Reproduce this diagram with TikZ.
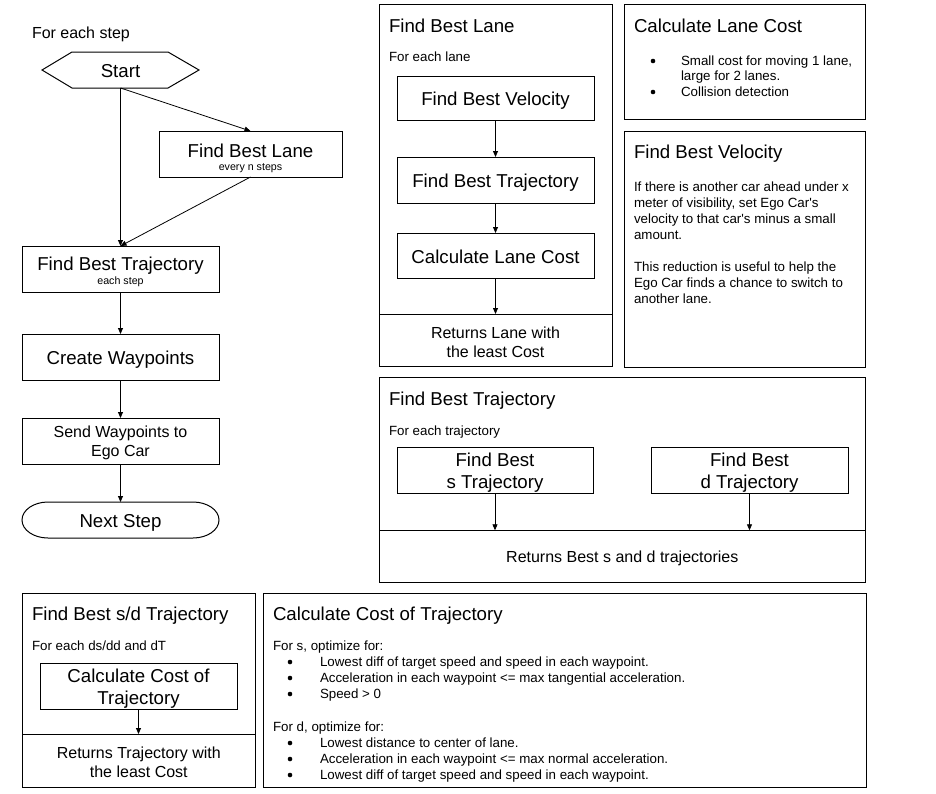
\documentclass[tikz,border=0pt]{standalone}
\usepackage{fontspec}
\setmainfont{Liberation Sans}
\usetikzlibrary{arrows.meta}
\newcommand\sbig{\rule[-3.3pt]{0pt}{22pt}}
\newcommand\smid{\rule[-3.4pt]{0pt}{19pt}}
\newcommand\ssm{\rule[-3pt]{0pt}{16pt}}
\newcommand\stn{\rule[-2.2pt]{0pt}{13pt}}
\tikzset{
  every node/.style={inner sep=0pt, outer sep=0pt},
  fbig/.style={font=\fontsize{18.67pt}{22pt}\selectfont},
  fmid/.style={font=\fontsize{16pt}{19pt}\selectfont},
  fsm/.style={font=\fontsize{13.33pt}{16pt}\selectfont},
  ftn/.style={font=\fontsize{10.67pt}{13pt}\selectfont},
  box/.style={draw=black, line width=1pt, align=center, fbig},
  panel/.style={draw=black, line width=1pt},
  txt/.style={anchor=west},
  arr/.style={draw=black, line width=0.8pt, -{Triangle[length=6pt,width=5pt]}},
  divline/.style={draw=black, line width=1pt},
  outline/.style={draw=black, line width=1pt},
  bulletdot/.style={fill=black},
}
\begin{document}
\begin{tikzpicture}[x=1pt, y=-1pt]
\useasboundingbox[fill=white] (0,0) rectangle (936,793);

% ---------------- left flowchart ----------------
\node[txt, fmid] (forstep) at (32,32) {For each step\smid};
\node[fbig, minimum width=157pt, minimum height=36pt] (start) at (120.5,70) {Start\sbig};
\draw[outline] (start.west) -- ([xshift=30pt]start.north west) -- ([xshift=-31pt]start.north east)
  -- (start.east) -- ([xshift=-31pt]start.south east) -- ([xshift=30pt]start.south west) -- cycle;

\node[box, minimum width=183pt, minimum height=46pt] (fbl) at (250.5,154) {};
\node[fbig] (fbla) at (250.5,150) {Find Best Lane\sbig};
\node[ftn] (fblb) at (250.5,166) {every n steps\stn};

\node[box, minimum width=197pt, minimum height=46pt] (fbt) at (120.5,269) {};
\node[fbig] (fbta) at (120.5,263) {Find Best Trajectory\sbig};
\node[ftn] (fbtb) at (120.5,280) {each step\stn};

\node[box, minimum width=197pt, minimum height=46pt] (cw) at (120.5,357) {Create Waypoints\sbig};
\node[box, fmid, minimum width=197pt, minimum height=46pt] (sw) at (120.5,441) {Send Waypoints to\smid\\Ego Car\smid};
\node[fbig, minimum width=197pt, minimum height=36pt] (next) at (120.5,520) {Next Step\sbig};
\draw[outline] ([xshift=26pt]next.north west) -- ([xshift=-26pt]next.north east)
  arc[start angle=90, end angle=-90, x radius=26pt, y radius=18pt]
  -- ([xshift=26pt]next.south west)
  arc[start angle=270, end angle=90, x radius=26pt, y radius=18pt] -- cycle;

\draw[arr] (start.south) -- (fbt.north);
\draw[arr] (start.south) -- (fbl.north);
\draw[arr] (fbl.south) -- (fbt.north);
\draw[arr] (fbt.south) -- (cw.north);
\draw[arr] (cw.south) -- (sw.north);
\draw[arr] (sw.south) -- (next.north);

% ---------------- Find Best Lane panel ----------------
\node[panel, minimum width=233pt, minimum height=362.2pt] (fblp) at (495.5,185.6) {};
\node[txt, fbig] (fblpt) at (389,25) {Find Best Lane\sbig};
\node[txt, fsm] (fblpf) at (389,56) {For each lane\ssm};
\node[box, minimum width=197pt, minimum height=44pt] (fbv) at (495.5,98) {Find Best Velocity\sbig};
\node[box, minimum width=197pt, minimum height=46pt] (fbtl) at (495.5,180) {Find Best Trajectory\sbig};
\node[box, minimum width=197pt, minimum height=45pt] (clcl) at (495.5,255.5) {Calculate Lane Cost\sbig};
\coordinate (fbldiv) at (495.5,314);
\draw[divline] (fblp.west |- fbldiv) -- (fblp.east |- fbldiv);
\draw[arr] (fbv.south) -- (fbtl.north);
\draw[arr] (fbtl.south) -- (clcl.north);
\draw[arr] (clcl.south) -- (fbldiv);
\node[fmid, align=center] (fblret) at (495.5,341.5) {Returns Lane with\smid\\the least Cost\smid};

% ---------------- Calculate Lane Cost panel ----------------
\node[panel, minimum width=241.5pt, minimum height=114.5pt] (clcp) at (744.75,61.75) {};
\node[txt, fbig] (clcpt) at (634,25) {Calculate Lane Cost\sbig};
\fill[bulletdot] (653,61) circle[radius=2.3pt];
\fill[bulletdot] (653,92) circle[radius=2.3pt];
\node[txt, fsm] (clc1) at (681,60) {Small cost for moving 1 lane,\ssm};
\node[txt, fsm] (clc1b) at (681,75.5) {large for 2 lanes.\ssm};
\node[txt, fsm] (clc2) at (681,91) {Collision detection\ssm};

% ---------------- Find Best Velocity panel ----------------
\node[panel, minimum width=241.5pt, minimum height=236pt] (fbvp) at (744.75,249) {};
\node[txt, fbig] (fbvpt) at (634,151) {Find Best Velocity\sbig};
\node[fsm, anchor=north west, align=left] (fbvtxt) at (634,178) {%
\ssm If there is another car ahead under x\\
\ssm meter of visibility, set Ego Car\textquotesingle s\\
\ssm velocity to that car\textquotesingle s minus a small\\
\ssm amount.\\[16pt]
\ssm This reduction is useful to help the\\
\ssm Ego Car finds a chance to switch to\\
\ssm another lane.};

% ---------------- Find Best Trajectory panel ----------------
\node[panel, minimum width=486.5pt, minimum height=204.5pt] (fbtp) at (622.25,479.75) {};
\node[txt, fbig] (fbtpt) at (389,398) {Find Best Trajectory\sbig};
\node[txt, fsm] (fbtpf) at (389,430) {For each trajectory\ssm};
\node[box, minimum width=196pt, minimum height=46pt] (sbox) at (495,470) {Find Best\sbig\\s Trajectory\sbig};
\node[box, minimum width=197pt, minimum height=46pt] (dbox) at (749.5,470) {Find Best\sbig\\d Trajectory\sbig};
\coordinate (fbtdiv) at (622.25,530.3);
\draw[divline] (fbtp.west |- fbtdiv) -- (fbtp.east |- fbtdiv);
\coordinate (sdiv) at (sbox.south |- fbtdiv);
\coordinate (ddiv) at (dbox.south |- fbtdiv);
\draw[arr] (sbox.south) -- (sdiv);
\draw[arr] (dbox.south) -- (ddiv);
\node[fmid] (fbtret) at (622.25,556) {Returns Best s and d trajectories\smid};

% ---------------- Find Best s/d Trajectory panel ----------------
\node[panel, minimum width=233pt, minimum height=194pt] (sdp) at (138.8,690) {};
\node[txt, fbig] (sdpt) at (32,613) {Find Best s/d Trajectory\sbig};
\node[txt, fsm] (sdpf) at (32,645) {For each ds/dd and dT\ssm};
\node[box, minimum width=197pt, minimum height=46pt] (cct) at (138.5,686) {Calculate Cost of\sbig\\Trajectory\sbig};
\coordinate (sddiv) at (138.5,734);
\draw[divline] (sdp.west |- sddiv) -- (sdp.east |- sddiv);
\draw[arr] (cct.south) -- (sddiv);
\node[fmid, align=center] (sdret) at (138.8,761.5) {Returns Trajectory with\smid\\the least Cost\smid};

% ---------------- Calculate Cost of Trajectory panel ----------------
\node[panel, minimum width=602.5pt, minimum height=194pt] (cctp) at (564.75,690) {};
\node[txt, fbig] (cctpt) at (273,613) {Calculate Cost of Trajectory\sbig};
\node[txt, fsm] (fors) at (273,645) {For s, optimize for:\ssm};
\foreach \yy in {662,678,694,743,759,775} \fill[bulletdot] (290,\yy) circle[radius=2.3pt];
\node[txt, fsm] (s1) at (320,661) {Lowest diff of target speed and speed in each waypoint.\ssm};
\node[txt, fsm] (s2) at (320,677) {Acceleration in each waypoint <= max tangential acceleration.\ssm};
\node[txt, fsm] (s3) at (320,693) {Speed > 0\ssm};
\node[txt, fsm] (ford) at (273,726) {For d, optimize for:\ssm};
\node[txt, fsm] (d1) at (320,742) {Lowest distance to center of lane.\ssm};
\node[txt, fsm] (d2) at (320,758) {Acceleration in each waypoint <= max normal acceleration.\ssm};
\node[txt, fsm] (d3) at (320,774) {Lowest diff of target speed and speed in each waypoint.\ssm};
\end{tikzpicture}
\end{document}
